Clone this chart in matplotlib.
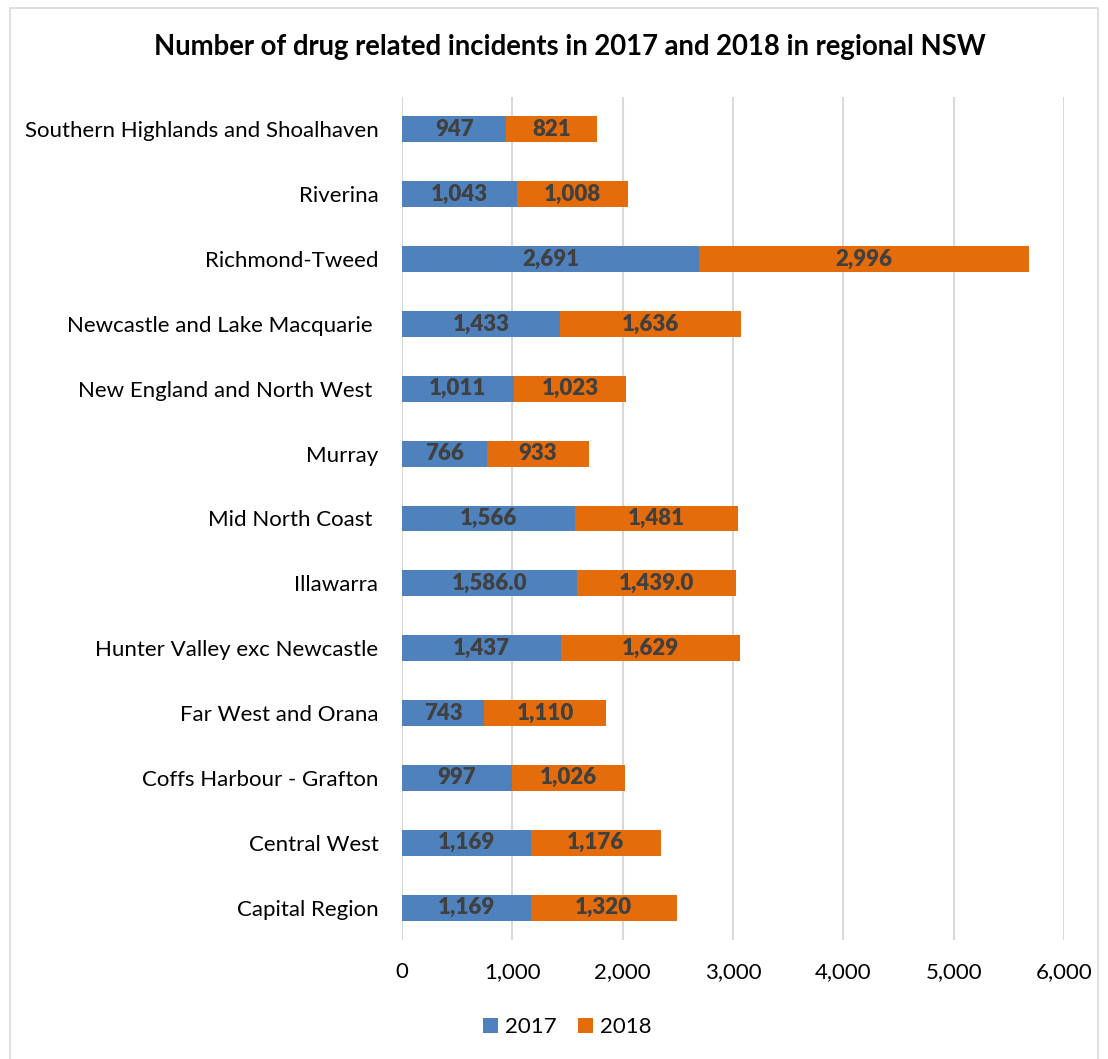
import matplotlib.pyplot as plt
from matplotlib.patches import Rectangle

plt.rcParams['font.family'] = ['Lato', 'DejaVu Sans']

# data
regions = ['Capital Region', 'Central West', 'Coffs Harbour - Grafton', 'Far West and Orana',
           'Hunter Valley exc Newcastle', 'Illawarra', 'Mid North Coast ', 'Murray',
           'New England and North West ', 'Newcastle and Lake Macquarie ', 'Richmond-Tweed',
           'Riverina', 'Southern Highlands and Shoalhaven']
y2017 = [1169, 1169, 997, 743, 1437, 1586, 1566, 766, 1011, 1433, 2691, 1043, 947]
y2018 = [1320, 1176, 1026, 1110, 1629, 1439, 1481, 933, 1023, 1636, 2996, 1008, 821]
lab2017 = ['1,169', '1,169', '997', '743', '1,437', '1,586.0', '1,566', '766', '1,011',
           '1,433', '2,691', '1,043', '947']
lab2018 = ['1,320', '1,176', '1,026', '1,110', '1,629', '1,439.0', '1,481', '933', '1,023',
           '1,636', '2,996', '1,008', '821']
xticks = [0, 1000, 2000, 3000, 4000, 5000, 6000]

blue = '#4F81BD'
orange = '#E46C0A'
fs = 16

fig = plt.figure(figsize=(11.08, 10.59), dpi=100)
fig.patches.append(Rectangle((10 / 1108, -0.01), 1088 / 1108, 1 - 8 / 1059 + 0.01,
                             transform=fig.transFigure, fill=False,
                             edgecolor='#D9D9D9', linewidth=1.2))
ax = fig.add_axes([402 / 1108, 1 - 940 / 1059, 662 / 1108, 843 / 1059])

pos = list(range(len(regions)))
b1 = ax.barh(pos, y2017, height=0.4, color=blue, zorder=2, label='2017')
b2 = ax.barh(pos, y2018, left=y2017, height=0.4, color=orange, zorder=2, label='2018')
ax.bar_label(b1, labels=lab2017, label_type='center', color='#404040',
             fontsize=fs, fontweight='heavy')
ax.bar_label(b2, labels=lab2018, label_type='center', color='#404040',
             fontsize=fs, fontweight='heavy')

ax.set_xlim(0, 6000)
ax.set_ylim(-0.5, len(regions) - 0.5)
ax.set_xticks(xticks)
ax.set_xticklabels([f'{v:,}' for v in xticks], fontsize=fs)
ax.set_yticks(pos)
ax.set_yticklabels(regions, fontsize=fs)
ax.tick_params(length=0)
ax.tick_params(axis='x', pad=16)
ax.tick_params(axis='y', pad=17)
ax.xaxis.grid(True, color='#D9D9D9', linewidth=1.5, zorder=0)
ax.set_axisbelow(True)
for s in ax.spines.values():
    s.set_visible(False)

fig.text(0.514, 1 - 47 / 1059, 'Number of drug related incidents in 2017 and 2018 in regional NSW',
         ha='center', va='center', fontsize=19.8, fontweight='bold')

fig.legend(handles=[b1, b2], loc='center', bbox_to_anchor=(0.512, 1 - 1027 / 1059), ncol=2,
           frameon=False, fontsize=fs, handlelength=0.65, handleheight=0.65,
           handletextpad=0.3, columnspacing=1.0)

fig.savefig('out.png', dpi=100)
